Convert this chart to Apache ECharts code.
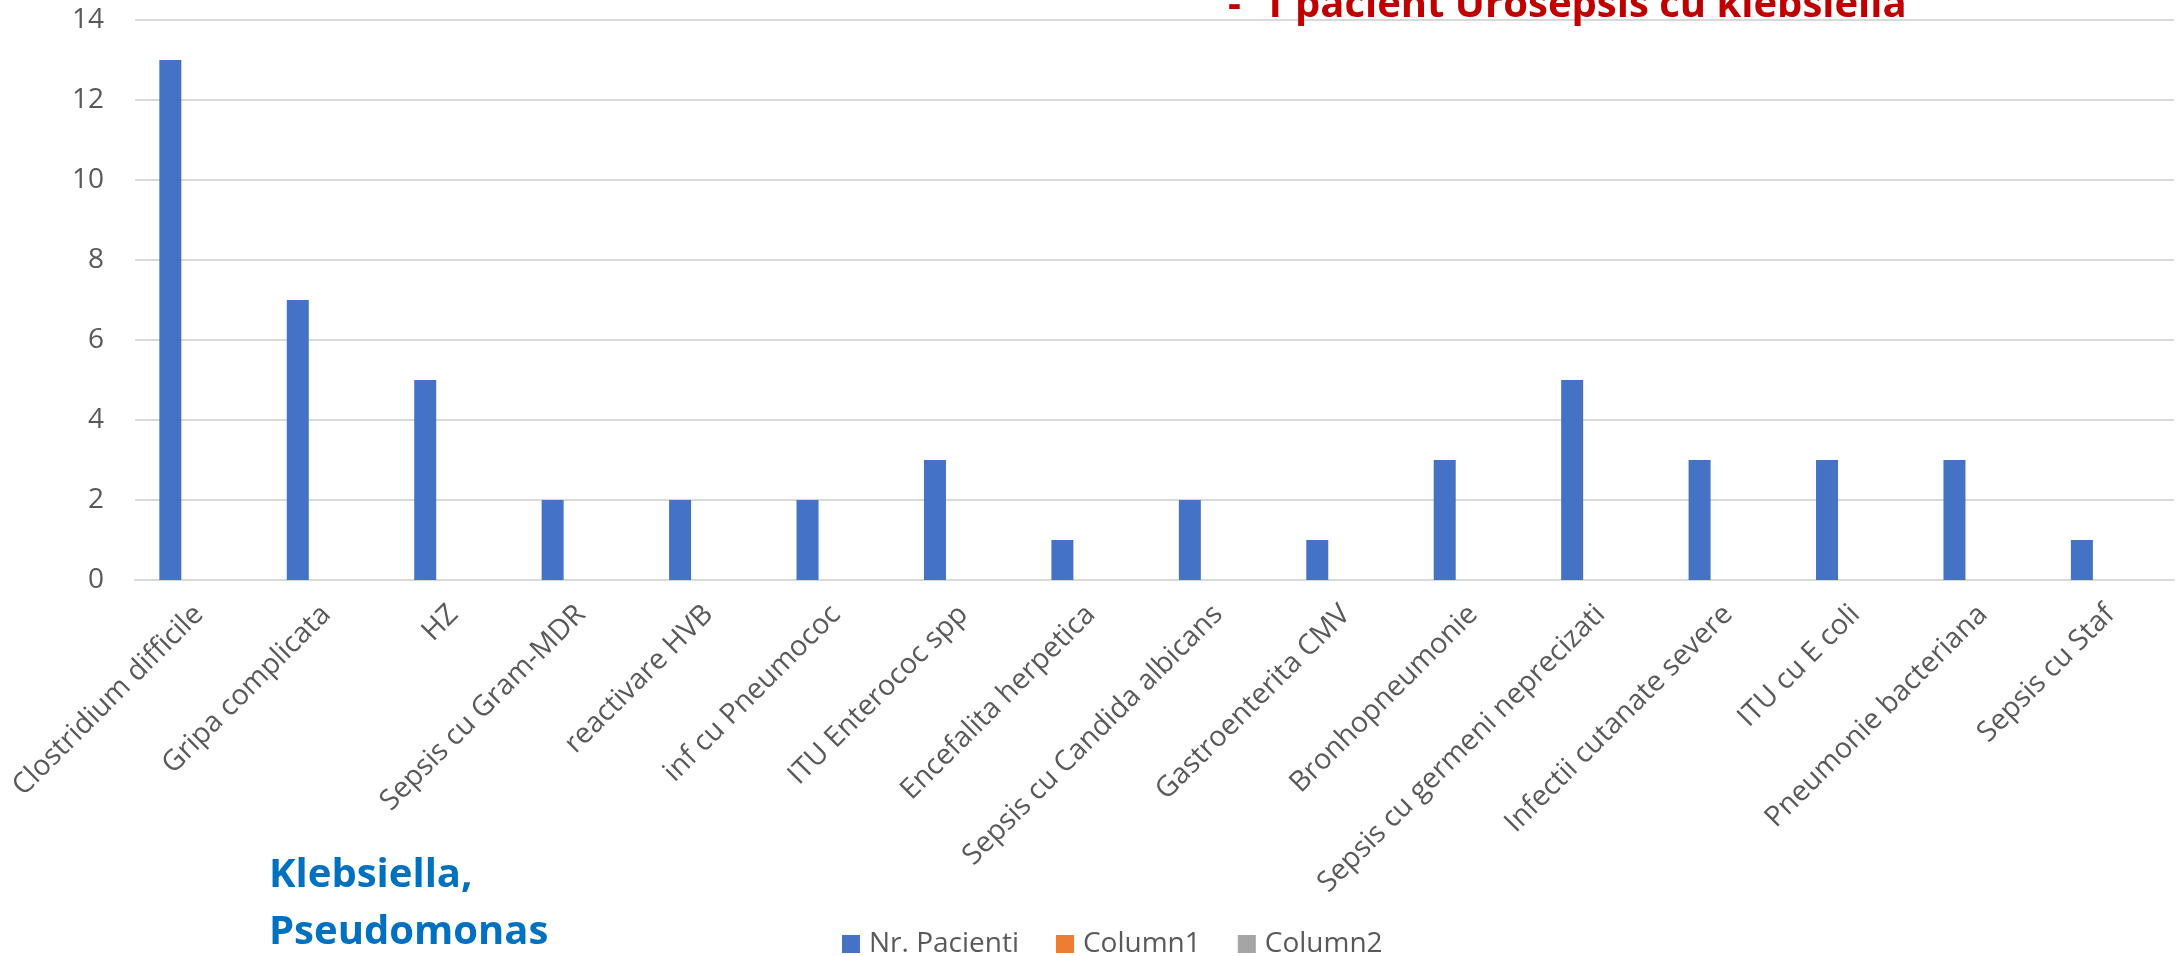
<!DOCTYPE html>
<html>
<head>
<meta charset="utf-8">
<title>Nr. Pacienti</title>
<script src="https://cdn.jsdelivr.net/npm/echarts@6/dist/echarts.min.js"></script>
<style>
  html, body { margin: 0; padding: 0; background: #ffffff; }
  #chart { width: 2181px; height: 956px; }
</style>
</head>
<body>
<div id="chart"></div>
<script>
// Diagnoses (category axis)
const categories = [
  'Clostridium difficile',
  'Gripa complicata',
  'HZ',
  'Sepsis cu Gram-MDR',
  'reactivare HVB',
  'inf cu Pneumococ',
  'ITU Enterococ spp',
  'Encefalita herpetica',
  'Sepsis cu Candida albicans',
  'Gastroenterita CMV',
  'Bronhopneumonie',
  'Sepsis cu germeni neprecizati',
  'Infectii cutanate severe',
  'ITU cu E coli',
  'Pneumonie bacteriana',
  'Sepsis cu Staf'
];

// Number of patients per diagnosis
const nrPacienti = [13, 7, 5, 2, 2, 2, 3, 1, 2, 1, 3, 5, 3, 3, 3, 1];

// The two extra columns of the table are empty
const column1 = [];
const column2 = [];

const seriesNames = ['Nr. Pacienti', 'Column1', 'Column2'];

// Value axis ticks
const yMin = 0;
const yMax = 14;
const yStep = 2;

// Annotations
const noteTop = '-  1 pacient Urosepsis cu klebsiella';
const noteBottom = ['Klebsiella,', 'Pseudomonas'];

const FONT = '"Open Sans", "Noto Sans", sans-serif';
const GREY = '#595959';
const GRID_LINE = '#D9D9D9';

const chart = echarts.init(document.getElementById('chart'), null, { renderer: 'canvas' });

const seriesData = [nrPacienti, column1, column2];
const seriesColors = ['#4472C4', '#ED7D31', '#A5A5A5'];

chart.setOption({
  animation: false,
  backgroundColor: '#ffffff',
  textStyle: { fontFamily: FONT },
  grid: { left: 135, right: 7, top: 20, bottom: 376, containLabel: false },
  xAxis: {
    type: 'category',
    data: categories,
    axisLine: { show: true, lineStyle: { color: GRID_LINE, width: 2 } },
    axisTick: { show: false },
    axisLabel: {
      interval: 0,
      rotate: 45,
      margin: 30,
      fontSize: 28.5,
      color: GREY,
      fontFamily: FONT
    }
  },
  yAxis: {
    type: 'value',
    min: yMin,
    max: yMax,
    interval: yStep,
    axisLine: { show: false },
    axisTick: { show: false },
    splitLine: { show: true, lineStyle: { color: GRID_LINE, width: 2 } },
    axisLabel: { margin: 31, fontSize: 28, color: GREY, fontFamily: FONT }
  },
  legend: {
    data: seriesNames,
    left: 842,
    top: 930,
    padding: 0,
    icon: 'rect',
    itemWidth: 18,
    itemHeight: 18,
    itemGap: 37,
    textStyle: { fontSize: 28, color: GREY, fontFamily: FONT, padding: [0, 0, 0, 4] }
  },
  series: seriesNames.map((name, i) => ({
    name: name,
    type: 'bar',
    data: seriesData[i],
    barWidth: 22,
    barGap: '29%',
    itemStyle: { color: seriesColors[i] }
  })),
  graphic: [
    {
      type: 'text',
      x: 1228,
      y: 5.6,
      z: 100,
      style: {
        text: noteTop,
        font: 'bold 40px ' + FONT,
        fill: '#C00000',
        verticalAlign: 'middle'
      }
    },
    {
      type: 'text',
      x: 269,
      y: 847,
      z: 100,
      style: {
        text: noteBottom.join('\n'),
        font: 'bold 40px ' + FONT,
        lineHeight: 57,
        fill: '#0070C0',
        verticalAlign: 'top'
      }
    }
  ]
});
</script>
</body>
</html>
